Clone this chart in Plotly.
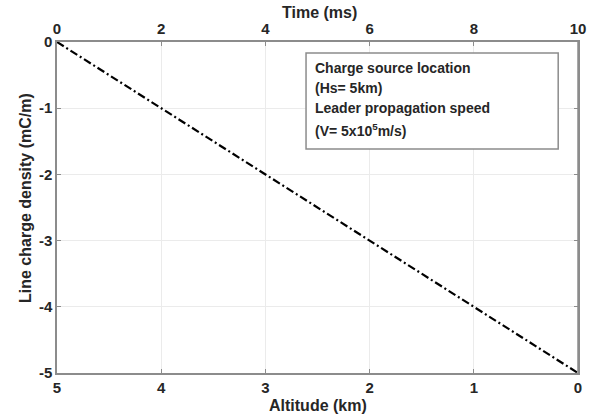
import plotly.graph_objects as go

altitude_km = [5, 0]
time_ms = [0, 10]
density = [0, -5]
bottom_ticks = [5, 4, 3, 2, 1, 0]
top_ticks = [0, 2, 4, 6, 8, 10]
y_ticks = [0, -1, -2, -3, -4, -5]
y_tick_text = ["0", "-1", "-2", "-3", "-4", "-5"]
legend_lines = ["Charge source location", "(Hs= 5km)", "Leader propagation speed",
                "(V= 5x10<sup>5</sup>m/s)"]

FONT = "Liberation Sans, Arial, sans-serif"
TXT = "#262626"
fig = go.Figure()
fig.add_trace(go.Scatter(x=altitude_km, y=density, mode="lines",
                         line=dict(color="black", width=2.2, dash="8px,3px,2px,3px"),
                         showlegend=False, hoverinfo="skip"))
fig.add_trace(go.Scatter(x=time_ms, y=density, mode="lines", xaxis="x2",
                         line=dict(color="rgba(0,0,0,0)", width=0),
                         showlegend=False, hoverinfo="skip"))

axis_common = dict(showgrid=True, gridcolor="#ebebeb", gridwidth=1,
                   showline=True, linecolor="#8c8c8c", linewidth=1.5,
                   ticks="inside", ticklen=4, tickcolor="#8c8c8c",
                   zeroline=False,
                   tickfont=dict(family=FONT, size=15, color=TXT, weight="bold"))

fig.update_layout(
    width=603, height=419,
    margin=dict(l=57, r=25, t=42, b=46),
    plot_bgcolor="white", paper_bgcolor="white",
    xaxis=dict(range=[5, 0], tickvals=bottom_ticks, **axis_common),
    xaxis2=dict(range=[0, 10], tickvals=top_ticks, overlaying="x", side="top",
                **axis_common),
    yaxis=dict(range=[-5, 0], tickvals=y_ticks, ticktext=y_tick_text,
               mirror="ticks", **axis_common),
    showlegend=False,
)

# right border line
fig.add_shape(type="line", xref="paper", yref="paper", x0=1, x1=1, y0=0, y1=1,
              line=dict(color="#8c8c8c", width=1.5))

# axis titles
title_font = dict(family=FONT, size=16, color=TXT)
fig.add_annotation(text="<b>Altitude (km)</b>", xref="paper", yref="paper",
                   x=0.5, y=(373 - 405) / 331, xanchor="center", yanchor="middle",
                   showarrow=False, font=title_font)
fig.add_annotation(text="<b>Time (ms)</b>", xref="paper", yref="paper",
                   x=0.503, y=(373 - 12) / 331, xanchor="center", yanchor="middle",
                   showarrow=False, font=title_font)
fig.add_annotation(text="<b>Line charge density (mC/m)</b>", xref="paper", yref="paper",
                   x=(25 - 57) / 521, y=(373 - 198) / 331, xanchor="center",
                   yanchor="middle", textangle=-90, showarrow=False, font=title_font)

# legend box
fig.add_shape(type="rect", xref="paper", yref="paper",
              x0=0.478, x1=0.962, y0=0.677, y1=0.967,
              line=dict(color="#8c8c8c", width=1.5), fillcolor="white", layer="above")
line_y = [68, 88, 108, 130]
for txt, py in zip(legend_lines, line_y):
    fig.add_annotation(text="<b>" + txt + "</b>", xref="paper", yref="paper",
                       x=0.491, y=(373 - py) / 331, xanchor="left", yanchor="middle",
                       showarrow=False, align="left",
                       font=dict(family=FONT, size=14, color=TXT))

fig.write_html("out.html")
